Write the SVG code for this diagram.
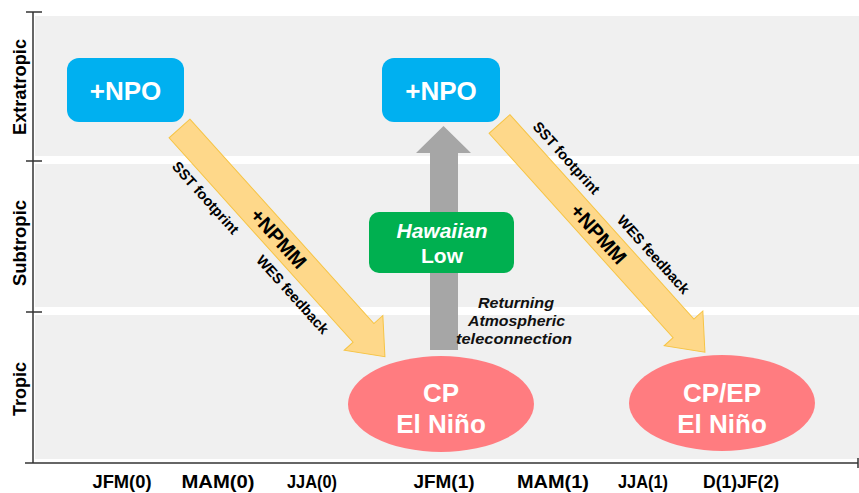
<svg xmlns="http://www.w3.org/2000/svg" width="859" height="493" viewBox="0 0 859 493">
  <style>
    .band { fill: #f0f0f0; }
    .axis { stroke: #333333; stroke-width: 1.5; fill: none; }
    .lab { font-family: "Liberation Sans", Arial, sans-serif; font-weight: bold; font-size: 18px; fill: #000; text-anchor: middle; }
    .npo { fill: #00b0f0; }
    .nodeTxt { font-family: "Liberation Sans", Arial, sans-serif; font-weight: bold; fill: #ffffff; text-anchor: middle; }
    .yarrow { fill: #fed88a; stroke: #f6c445; stroke-width: 1; }
    .arTxt { font-family: "Liberation Sans", Arial, sans-serif; font-size: 14.5px; font-weight: bold; fill: #000; text-anchor: middle; }
    .arBig { font-family: "Liberation Sans", Arial, sans-serif; font-size: 20px; font-weight: bold; fill: #000; text-anchor: middle; }
    .ret { font-family: "Liberation Sans", Arial, sans-serif; font-size: 15px; font-weight: bold; font-style: italic; fill: #111; text-anchor: middle; }
  </style>
  <defs>
    <path id="yshape" d="M0,-14 L275,-14 L275,-26 L307,0 L275,26 L275,14 L0,14 Z"/>
  </defs>
  <rect width="859" height="493" fill="#ffffff"/>

  <!-- background bands -->
  <g id="bands">
    <rect class="band" x="35" y="16" width="824" height="140"/>
    <rect class="band" x="35" y="164" width="824" height="143"/>
    <rect class="band" x="35" y="315" width="824" height="144"/>
  </g>

  <!-- axes -->
  <g id="axes">
    <line class="axis" x1="33" y1="12" x2="33" y2="463"/>
    <line class="axis" x1="26" y1="12" x2="42" y2="12"/>
    <line class="axis" x1="26" y1="161" x2="42" y2="161"/>
    <line class="axis" x1="26" y1="312" x2="42" y2="312"/>
    <line class="axis" x1="25" y1="463" x2="858" y2="463"/>
    <line class="axis" x1="858" y1="458" x2="858" y2="468"/>
  </g>

  <!-- axis labels -->
  <g id="y-labels">
    <text class="lab" transform="translate(26,87) rotate(-90)" textLength="96" lengthAdjust="spacingAndGlyphs">Extratropic</text>
    <text class="lab" transform="translate(26,243) rotate(-90)" textLength="86" lengthAdjust="spacingAndGlyphs">Subtropic</text>
    <text class="lab" transform="translate(26,389) rotate(-90)" textLength="54" lengthAdjust="spacingAndGlyphs">Tropic</text>
  </g>
  <g id="x-labels">
    <text class="lab" x="122" y="488" textLength="59" lengthAdjust="spacingAndGlyphs">JFM(0)</text>
    <text class="lab" x="218" y="488" textLength="73" lengthAdjust="spacingAndGlyphs">MAM(0)</text>
    <text class="lab" x="312" y="488" textLength="50" lengthAdjust="spacingAndGlyphs">JJA(0)</text>
    <text class="lab" x="444" y="488" textLength="61" lengthAdjust="spacingAndGlyphs">JFM(1)</text>
    <text class="lab" x="553" y="488" textLength="72" lengthAdjust="spacingAndGlyphs">MAM(1)</text>
    <text class="lab" x="643" y="488" textLength="50" lengthAdjust="spacingAndGlyphs">JJA(1)</text>
    <text class="lab" x="741" y="488" textLength="76" lengthAdjust="spacingAndGlyphs">D(1)JF(2)</text>
  </g>

  <!-- connectors -->
  <g id="connectors">
    <g id="arrow-npmm-1" transform="translate(179.5,128.5) rotate(48)">
      <use href="#yshape" class="yarrow"/>
      <text class="arTxt" x="69" y="32">SST footprint</text>
      <text class="arBig" x="148" y="7">+NPMM</text>
      <text class="arTxt" x="199" y="32">WES feedback</text>
    </g>
    <g id="arrow-npmm-2" transform="translate(499.5,124) rotate(48)">
      <use href="#yshape" class="yarrow"/>
      <text class="arTxt" x="70" y="-22">SST footprint</text>
      <text class="arBig" x="148" y="7">+NPMM</text>
      <text class="arTxt" x="200" y="-22">WES feedback</text>
    </g>
    <g id="arrow-return">
      <polygon points="430,350 430,153 416,153 443.5,126 471,153 458,153 458,350" fill="#a6a6a6"/>
      <text class="ret" x="516" y="308" textLength="76" lengthAdjust="spacingAndGlyphs">Returning</text>
      <text class="ret" x="516.5" y="326" textLength="97" lengthAdjust="spacingAndGlyphs">Atmospheric</text>
      <text class="ret" x="514" y="344" textLength="116" lengthAdjust="spacingAndGlyphs">teleconnection</text>
    </g>
  </g>

  <!-- nodes -->
  <g id="npo-0">
    <rect class="npo" x="67" y="58" width="117" height="64" rx="12"/>
    <text class="nodeTxt" x="125.5" y="100" font-size="26">+NPO</text>
  </g>
  <g id="npo-1">
    <rect class="npo" x="382" y="58" width="118" height="64" rx="12"/>
    <text class="nodeTxt" x="441" y="100" font-size="26">+NPO</text>
  </g>
  <g id="hawaiian-low">
    <rect x="369" y="212" width="145" height="61" rx="10" fill="#00b050"/>
    <text class="nodeTxt" x="442" y="238" font-size="21" font-style="italic">Hawaiian</text>
    <text class="nodeTxt" x="442" y="263" font-size="21">Low</text>
  </g>
  <g id="cp-elnino">
    <ellipse cx="441" cy="404" rx="93" ry="48" fill="#ff7c80"/>
    <text class="nodeTxt" x="441" y="402" font-size="26">CP</text>
    <text class="nodeTxt" x="441" y="433" font-size="26">El Niño</text>
  </g>
  <g id="cpep-elnino">
    <ellipse cx="722" cy="403" rx="93" ry="48" fill="#ff7c80"/>
    <text class="nodeTxt" x="722" y="402" font-size="26">CP/EP</text>
    <text class="nodeTxt" x="722" y="433" font-size="26">El Niño</text>
  </g>
</svg>
